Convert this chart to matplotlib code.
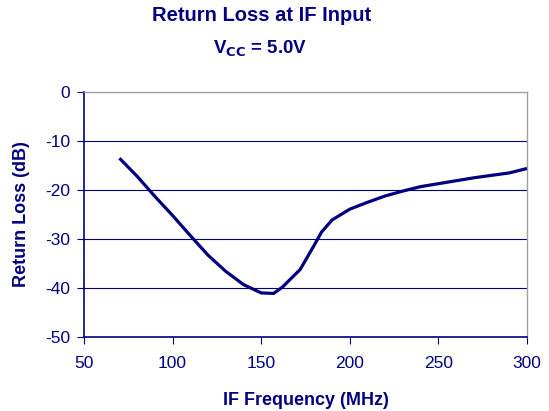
import matplotlib
matplotlib.use('Agg')
import matplotlib.pyplot as plt

plt.rcParams['font.family'] = ['Liberation Sans', 'DejaVu Sans']
plt.rcParams['axes.unicode_minus'] = False

# IF frequency (MHz) and return loss (dB)
freq = [70, 80, 90, 100, 110, 120, 130, 140, 150, 157, 162, 167, 172, 180, 184, 190,
        200, 210, 220, 230, 240, 250, 260, 270, 280, 290, 300]
rl = [-13.5, -17.2, -21.3, -25.2, -29.3, -33.3, -36.6, -39.3, -41.0, -41.1, -39.8, -38.0,
      -36.2, -31.2, -28.6, -26.1, -23.9, -22.5, -21.2, -20.2, -19.3, -18.7, -18.1, -17.5,
      -17.0, -16.5, -15.6]

xticks = [50, 100, 150, 200, 250, 300]
yticks = [0, -10, -20, -30, -40, -50]

navy = '#000080'

fig = plt.figure(figsize=(5.49, 4.11), dpi=100)
ax = fig.add_axes([0.153, 0.180, 0.807, 0.596])

for y in yticks[1:-1]:
    ax.axhline(y, color=navy, lw=0.8, zorder=1)
ax.plot(freq, rl, color=navy, lw=2.3, zorder=3, solid_capstyle='butt')

ax.set_xlim(50, 300)
ax.set_ylim(-50, 0)
ax.set_xticks(xticks)
ax.set_yticks(yticks)
ax.tick_params(direction='out', length=5, color=navy, labelcolor=navy,
               labelsize=12.5, pad=5)
ax.tick_params(axis='x', pad=9)

for s in ['left', 'bottom']:
    ax.spines[s].set_color(navy)
    ax.spines[s].set_linewidth(1.2)
for s in ['right', 'top']:
    ax.spines[s].set_color('#a0a0a0')
    ax.spines[s].set_linewidth(1.0)

ax.set_xlabel('IF Frequency (MHz)', color=navy, fontsize=13, fontweight='bold', labelpad=15)
ax.set_ylabel('Return Loss (dB)', color=navy, fontsize=13, fontweight='bold', labelpad=11)

fig.text(0.476, 0.962, 'Return Loss at IF Input', ha='center', va='center',
         color=navy, fontsize=14.5, fontweight='bold')
fig.text(0.474, 0.882, r'V$_{\mathbf{CC}}$ = 5.0V', ha='center', va='center',
         color=navy, fontsize=13.5, fontweight='bold')

fig.savefig('out.png', dpi=100)
